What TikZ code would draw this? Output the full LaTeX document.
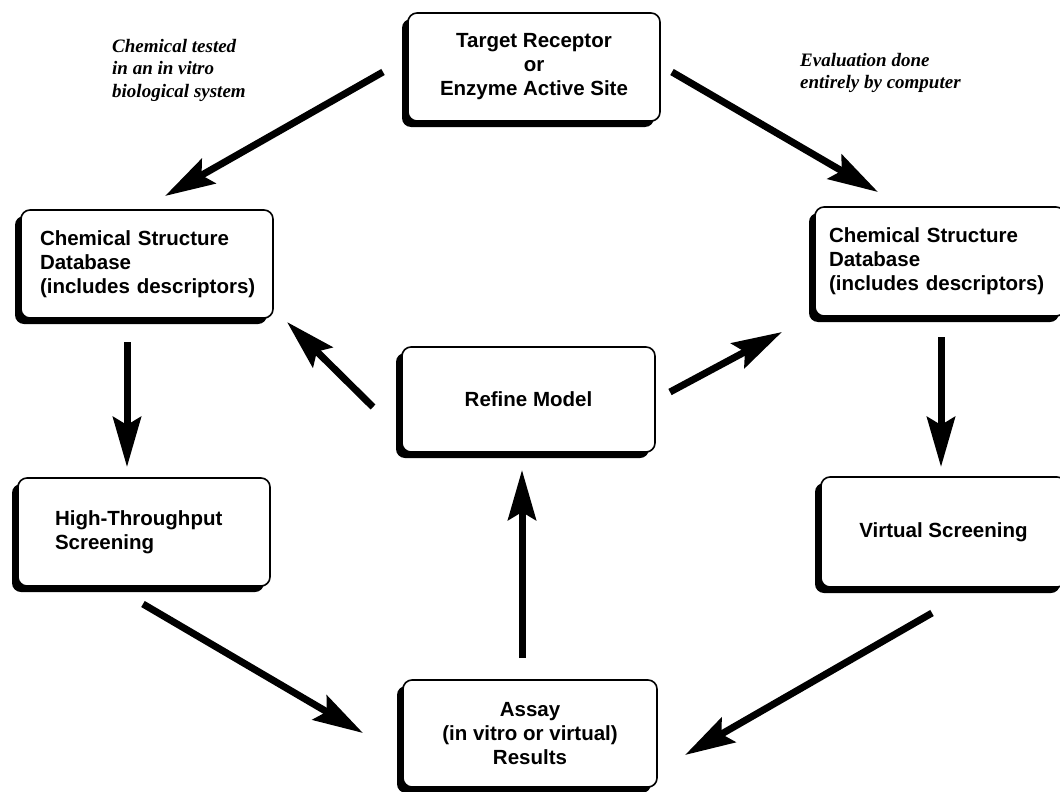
\documentclass[tikz,border=0pt]{standalone}
\usepackage{fontspec}
\setmainfont{Liberation Sans}
\newfontfamily\notefont{Liberation Serif Bold Italic}
\usetikzlibrary{arrows.meta,shadows}
\begin{document}
\begin{tikzpicture}[x=1pt,y=-1pt,
  box/.style={draw=black, line width=1.6pt, rounded corners=9pt, fill=white,
    font=\fontsize{20.5}{24}\selectfont\bfseries,
    drop shadow={shadow xshift=-6pt, shadow yshift=-6pt, opacity=1, fill=black},
    inner sep=0pt},
  arr/.style={line width=7pt, -{Stealth[length=50pt,width=28pt,inset=8pt]}},
  note/.style={font=\notefont\fontsize{19}{22.5}\selectfont,
    align=left, inner sep=0pt, anchor=north west}]
\useasboundingbox (0,0) rectangle (1060,792);
\clip (0,0) rectangle (1060,792);

\node[box, minimum width=252pt, minimum height=108pt, align=center] (top) at (534,67)
  {Target Receptor\\or\\Enzyme Active Site};
\node[box, minimum width=252pt, minimum height=108pt, text width=214pt, inner xsep=19pt, align=left] (ldb) at (147,264)
  {\mbox{Chemical Structure}\\Database\\\mbox{(includes descriptors)}};
\node[box, minimum width=250pt, minimum height=109pt, text width=222pt, inner xsep=14pt, align=left] (rdb) at (940,261.5)
  {\mbox{Chemical Structure}\\Database\\\mbox{(includes descriptors)}};
\node[box, minimum width=253pt, minimum height=105pt, align=center] (refine) at (528.5,399.5)
  {Refine Model};
\node[box, minimum width=252pt, minimum height=108pt, text width=178pt, inner xsep=37pt, align=left] (hts) at (144,532)
  {\mbox{High-Throughput}\\Screening};
\node[box, minimum width=245pt, minimum height=110pt, align=center] (vs) at (943.5,532)
  {Virtual Screening};
\node[box, minimum width=254pt, minimum height=107pt, align=center] (assay) at (530,733.5)
  {Assay\\(in vitro or virtual)\\Results};

\node[note] (n1) at (112,39) {Chemical tested\\in an in vitro\\biological system};
\node[note] (n2) at (800,53) {Evaluation done\\entirely by computer};

\coordinate (a1s) at (383,72);  \coordinate (a1e) at (165,196);
\coordinate (a2s) at (672,72);  \coordinate (a2e) at (878,192);
\coordinate (a3s) at (127,342); \coordinate (a3e) at (127,467);
\coordinate (a4s) at (941,337); \coordinate (a4e) at (941,467);
\coordinate (a5s) at (143,604); \coordinate (a5e) at (363,733);
\coordinate (a6s) at (932,613); \coordinate (a6e) at (685,755);
\coordinate (a7s) at (522,658); \coordinate (a7e) at (522,470);
\coordinate (a8s) at (373,407); \coordinate (a8e) at (287,322);
\coordinate (a9s) at (670,392); \coordinate (a9e) at (782,332);

\draw[arr] (a1s) -- (a1e);
\draw[arr] (a2s) -- (a2e);
\draw[arr] (a3s) -- (a3e);
\draw[arr] (a4s) -- (a4e);
\draw[arr] (a5s) -- (a5e);
\draw[arr] (a6s) -- (a6e);
\draw[arr] (a7s) -- (a7e);
\draw[arr] (a8s) -- (a8e);
\draw[arr] (a9s) -- (a9e);
\end{tikzpicture}
\end{document}
